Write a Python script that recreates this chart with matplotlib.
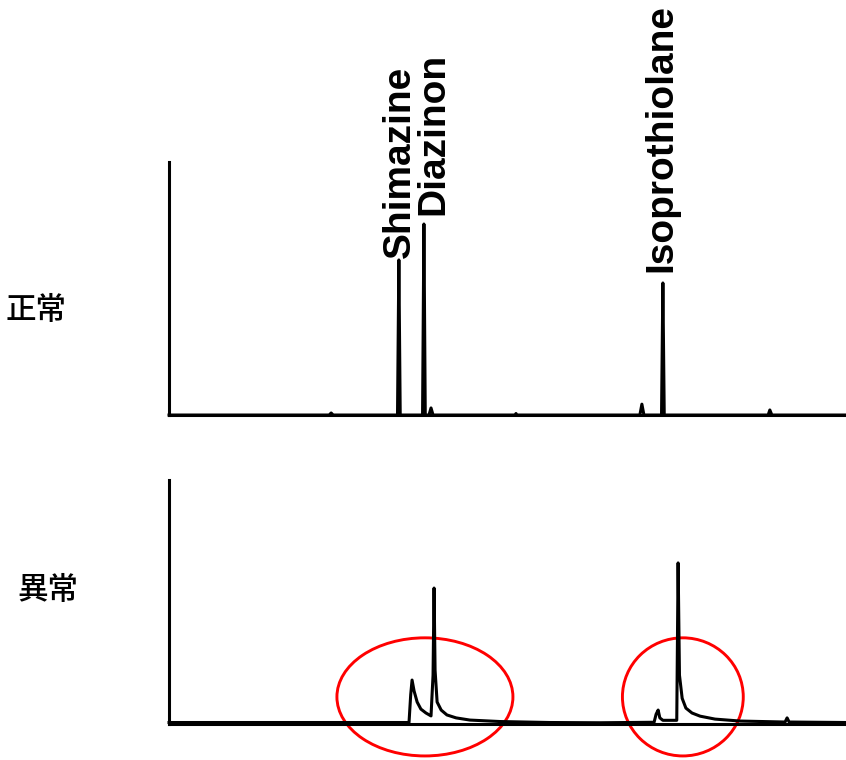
import numpy as np
import matplotlib
matplotlib.use("Agg")
import matplotlib.pyplot as plt
from matplotlib.patches import Ellipse

# retention time (min) and detector signal (% of full scale) for the normal run
normal_time = [0.0, 4.73, 4.79, 4.85, 6.75, 6.79, 6.83, 7.49, 7.53, 7.57, 7.68, 7.74, 7.80,
               10.22, 10.25, 10.28, 13.91, 13.97, 14.03, 14.55, 14.59, 14.63,
               17.70, 17.75, 17.81, 20.0]
normal_signal = [0.0, 0.0, 0.8, 0.0, 0.0, 61.3, 0.0, 0.0, 75.5, 0.0, 0.0, 2.8, 0.0,
                 0.0, 0.6, 0.0, 0.0, 4.3, 0.0, 0.0, 52.2, 0.0,
                 0.0, 2.0, 0.0, 0.0]

# same sample on the faulty system: broadened, tailing peaks
abnormal_time = [0.0, 7.00, 7.09, 7.14, 7.18, 7.24, 7.33, 7.44, 7.59, 7.74, 7.80, 7.83,
                 7.86, 7.92, 8.04, 8.21, 8.48, 8.89, 9.78, 11.26, 12.73, 14.33, 14.39,
                 14.45, 14.50, 14.59, 15.00, 15.04, 15.08, 15.16, 15.27, 15.45, 15.69,
                 16.13, 16.87, 18.20, 18.26, 18.32, 20.0]
abnormal_signal = [0.6, 0.6, 0.6, 12.0, 18.0, 13.5, 9.0, 6.1, 4.5, 3.3, 20.0, 55.7,
                   22.0, 9.0, 5.7, 3.7, 2.5, 1.6, 1.0, 0.6, 0.5, 0.7, 4.0,
                   5.7, 2.5, 1.5, 1.5, 66.0, 20.0, 10.5, 6.5, 4.5, 3.2,
                   2.0, 1.2, 0.8, 2.5, 0.8, 0.6]

compounds = ["Shimazine", "Diazinon", "Isoprothiolane"]
compound_rt = [6.79, 7.53, 14.59]
run_labels = ["正常", "異常"]

cjk = ["Noto Sans CJK JP", "DejaVu Sans"]

fig = plt.figure(figsize=(8.46, 7.6), dpi=100)
ax_top = fig.add_axes([0.1998, 0.4539, 0.8002, 0.3329])
ax_bot = fig.add_axes([0.1998, 0.0474, 0.8002, 0.3211])

for ax, t, s in [(ax_top, normal_time, normal_signal), (ax_bot, abnormal_time, abnormal_signal)]:
    ax.plot(t, s, color="black", lw=2.2, clip_on=False)
    ax.set_xlim(0, 20)
    ax.set_ylim(0, 100)
    ax.set_xticks([])
    ax.set_yticks([])
    for side in ["top", "right"]:
        ax.spines[side].set_visible(False)
    for side in ["left", "bottom"]:
        ax.spines[side].set_linewidth(2.2)

# peak names written vertically above the normal run
offsets = [(8.0, 1.4), (13.8, 6.5), (6.2, 7.9)]
t_arr = np.array(normal_time)
s_arr = np.array(normal_signal)
for name, rt, off in zip(compounds, compound_rt, offsets):
    h = s_arr[np.abs(t_arr - rt) < 0.1].max()
    ax_top.annotate(name, xy=(rt, h), xytext=off, textcoords="offset points",
                    rotation=90, rotation_mode="anchor", ha="left", va="baseline",
                    fontsize=28, fontweight="bold", family="Liberation Sans")

# red rings around the distorted peaks
for cx, w in [(7.56, 5.2), (15.18, 3.57)]:
    ax_bot.add_patch(Ellipse((cx, 11.1), w, 48.4, fill=False, ec="red", lw=2.1,
                             clip_on=False))

fig.text(36 / 846, 1 - 310 / 760, run_labels[0], ha="center", va="center",
         fontsize=22, fontweight="medium", family=cjk)
fig.text(48 / 846, 1 - 591 / 760, run_labels[1], ha="center", va="center",
         fontsize=22, fontweight="medium", family=cjk)

fig.savefig("out.png", dpi=100)
